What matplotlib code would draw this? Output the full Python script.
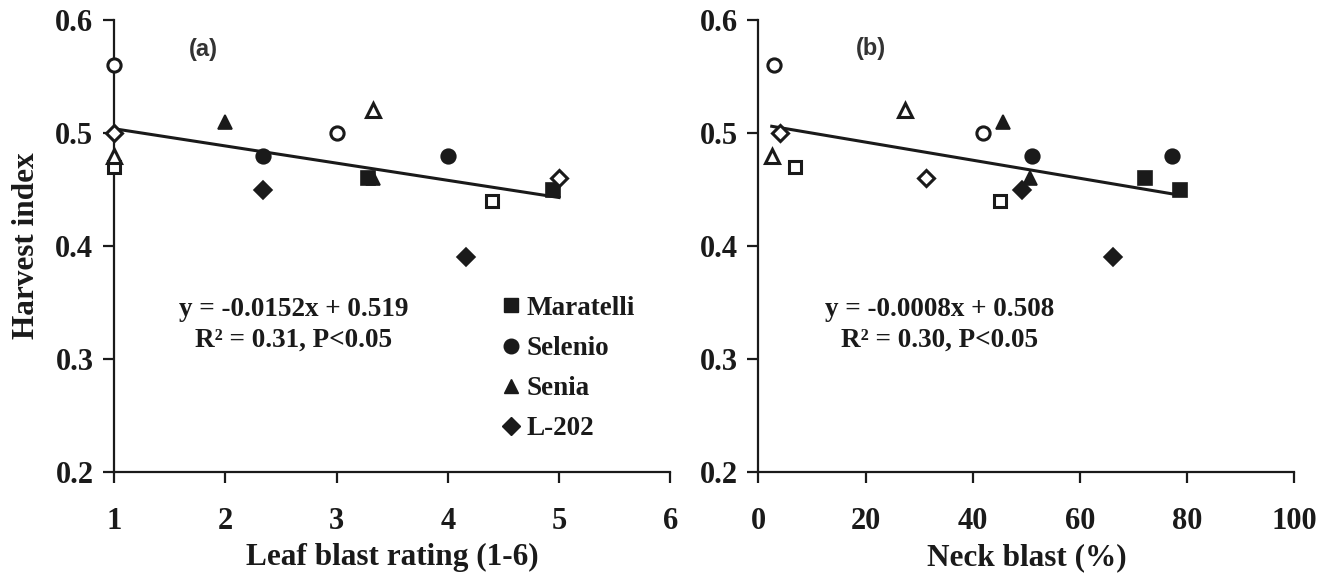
import matplotlib.pyplot as plt
from matplotlib.lines import Line2D

# varieties and their markers
varieties = ['Maratelli', 'Selenio', 'Senia', 'L-202']
markers = ['s', 'o', '^', 'D']

# filled symbols (first set) - leaf blast rating, neck blast %, harvest index
leaf_filled = [[3.28, 4.95], [2.34, 4.0], [2.0, 3.33], [2.34, 4.16]]
neck_filled = [[72.2, 78.6], [51.0, 77.2], [45.7, 50.6], [49.1, 66.1]]
hi_filled = [[0.46, 0.45], [0.48, 0.48], [0.51, 0.46], [0.45, 0.39]]

# open symbols (second set)
leaf_open = [[1.0, 4.4], [1.0, 3.0], [1.0, 3.33], [1.0, 5.0]]
neck_open = [[6.9, 45.0], [3.0, 42.0], [2.5, 27.3], [4.1, 31.3]]
hi_open = [[0.47, 0.44], [0.56, 0.50], [0.48, 0.52], [0.50, 0.46]]

# regression lines
slope_a, icpt_a = -0.0152, 0.519
slope_b, icpt_b = -0.0008, 0.508

serif = 'Liberation Serif'
plt.rcParams['font.family'] = serif
plt.rcParams['font.weight'] = 'bold'
plt.rcParams['axes.labelweight'] = 'bold'

ink = '#1a1a1a'
msize = {'s': 10, 'o': 10.5, '^': 10.5, 'D': 9}

fig = plt.figure(figsize=(13.33, 5.81), dpi=100)
ax_a = fig.add_axes([0.0857, 0.1871, 0.4171, 0.7785])
ax_b = fig.add_axes([0.5689, 0.1871, 0.4021, 0.7785])


def style_axes(ax):
    for s in ['top', 'right']:
        ax.spines[s].set_visible(False)
    for s in ['left', 'bottom']:
        ax.spines[s].set_linewidth(1.6)
        ax.spines[s].set_color(ink)
    ax.tick_params(direction='out', length=8, width=1.6, labelsize=22,
                   color=ink, labelcolor=ink)
    ax.tick_params(axis='x', pad=17)
    ax.tick_params(axis='y', pad=7)
    ax.set_ylim(0.2, 0.6)
    ax.set_yticks([0.2, 0.3, 0.4, 0.5, 0.6])


def scatter_sets(ax, xs_f, xs_o):
    for i, m in enumerate(markers):
        ax.plot(xs_f[i], hi_filled[i], ls='none', marker=m, ms=msize[m],
                mfc=ink, mec=ink, mew=1.2, clip_on=False, zorder=4)
        ax.plot(xs_o[i], hi_open[i], ls='none', marker=m, ms=msize[m] - 1,
                mfc='white', mec=ink, mew=2.2, clip_on=False, zorder=4)


def fit_line(ax, xs_f, xs_o, slope, icpt):
    allx = [v for row in xs_f + xs_o for v in row]
    x0, x1 = min(allx), max(allx)
    ax.plot([x0, x1], [slope * x0 + icpt, slope * x1 + icpt],
            color=ink, lw=2.2, zorder=3)


# panel (a)
style_axes(ax_a)
ax_a.set_xlim(1, 6)
ax_a.set_xticks([1, 2, 3, 4, 5, 6])
fit_line(ax_a, leaf_filled, leaf_open, slope_a, icpt_a)
scatter_sets(ax_a, leaf_filled, leaf_open)
ax_a.set_xlabel('Leaf blast rating (1-6)', fontsize=22.5, labelpad=5, color=ink)
ax_a.set_ylabel('Harvest index', fontsize=22.5, labelpad=10, color=ink)
ax_a.text(0.161, 0.934, '(a)', transform=ax_a.transAxes, ha='center',
          va='center', fontsize=17, family='Liberation Sans', color='#333333')
ax_a.text(0.323, 0.361, 'y = -0.0152x + 0.519', transform=ax_a.transAxes,
          ha='center', va='center', fontsize=19.5, color=ink)
ax_a.text(0.323, 0.2925, 'R² = 0.31, P<0.05', transform=ax_a.transAxes,
          ha='center', va='center', fontsize=19.5, color=ink)

handles = [Line2D([], [], ls='none', marker=m, ms=msize[m],
                  mfc=ink, mec=ink) for m in markers]
ax_a.legend(handles, varieties, loc='upper left', bbox_to_anchor=(0.696, 0.39),
            frameon=False, fontsize=19.5, handlelength=0.7, handletextpad=0.25,
            borderpad=0, borderaxespad=0, labelspacing=0.56, labelcolor=ink)

# panel (b)
style_axes(ax_b)
ax_b.set_xlim(0, 100)
ax_b.set_xticks([0, 20, 40, 60, 80, 100])
fit_line(ax_b, neck_filled, neck_open, slope_b, icpt_b)
scatter_sets(ax_b, neck_filled, neck_open)
ax_b.set_xlabel('Neck blast (%)', fontsize=22.5, labelpad=5, color=ink)
ax_b.text(0.21, 0.938, '(b)', transform=ax_b.transAxes, ha='center',
          va='center', fontsize=17, family='Liberation Sans', color='#333333')
ax_b.text(0.339, 0.361, 'y = -0.0008x + 0.508', transform=ax_b.transAxes,
          ha='center', va='center', fontsize=19.5, color=ink)
ax_b.text(0.339, 0.2925, 'R² = 0.30, P<0.05', transform=ax_b.transAxes,
          ha='center', va='center', fontsize=19.5, color=ink)

fig.savefig('out.png', dpi=100)
